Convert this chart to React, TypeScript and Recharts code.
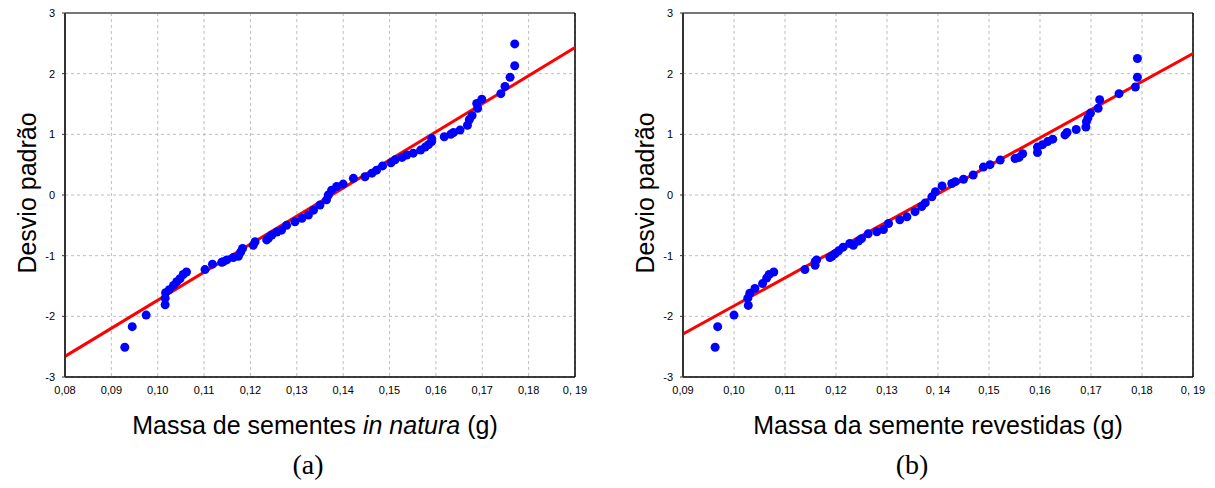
import { ComposedChart, Scatter, Line, XAxis, YAxis, CartesianGrid, ReferenceLine } from 'recharts';

// (a) in natura
const massA = [
  0.0929, 0.0945, 0.0975, 0.1016, 0.1016, 0.1017, 0.1025, 0.1034, 0.1041, 0.1048, 0.1055, 0.1062,
  0.1102, 0.1118, 0.1138, 0.1141, 0.1149, 0.1163, 0.1174, 0.1179, 0.1183, 0.1206, 0.121, 0.1235,
  0.1239, 0.1246, 0.1257, 0.1267, 0.1278, 0.1296, 0.1311, 0.1325, 0.1336, 0.135, 0.1364, 0.1368,
  0.1375, 0.1386, 0.14, 0.1422, 0.1447, 0.1462, 0.1472, 0.1485, 0.1503, 0.1512, 0.1527, 0.1537,
  0.1551, 0.1567, 0.1577, 0.1584, 0.1591, 0.1591, 0.1618, 0.1632, 0.1638, 0.1652, 0.1668, 0.1672,
  0.1678, 0.169, 0.1688, 0.1699, 0.174, 0.1749, 0.176, 0.177, 0.177,
];
const zA = [
  -2.51, -2.17, -1.98, -1.81, -1.7, -1.61, -1.56, -1.49, -1.43, -1.38, -1.31, -1.27,
  -1.23, -1.14, -1.11, -1.1, -1.07, -1.03, -1.01, -0.94, -0.88, -0.83, -0.77, -0.74,
  -0.71, -0.66, -0.61, -0.58, -0.5, -0.44, -0.385, -0.33, -0.25, -0.165, -0.08, 0,
  0.08, 0.14, 0.18, 0.275, 0.3, 0.36, 0.41, 0.48, 0.53, 0.58, 0.62, 0.66,
  0.69, 0.74, 0.79, 0.83, 0.88, 0.93, 0.96, 1.0, 1.03, 1.07, 1.15, 1.24,
  1.31, 1.43, 1.51, 1.58, 1.67, 1.79, 1.94, 2.13, 2.49,
];
const fitMassA = [0.08, 0.19];
const fitZA = [-2.66, 2.43];
const ticksA = [0.08, 0.09, 0.1, 0.11, 0.12, 0.13, 0.14, 0.15, 0.16, 0.17, 0.18, 0.19];
const tickLabelsA = ['0,08', '0,09', '0,10', '0,11', '0,12', '0,13', '0,14', '0,15', '0,16', '0,17', '0,18', '0, 19'];

// (b) revestidas
const massB = [
  0.0963, 0.0968, 0.1, 0.1028, 0.1027, 0.1031, 0.1041, 0.1056, 0.1064, 0.1069, 0.1078,
  0.1139, 0.1159, 0.1159, 0.1162, 0.1188, 0.1192, 0.1198, 0.1205, 0.1214, 0.1227, 0.1234,
  0.1244, 0.125, 0.1263, 0.128, 0.1293, 0.1303, 0.1325, 0.1339, 0.1355, 0.1368, 0.1375,
  0.1388, 0.1395, 0.1408, 0.1427, 0.1434, 0.145, 0.1469, 0.1489, 0.1502, 0.1522, 0.1551,
  0.1559, 0.1566, 0.1595, 0.1595, 0.1605, 0.1615, 0.1625, 0.1649, 0.1653, 0.1671, 0.169,
  0.1691, 0.1694, 0.1699, 0.1714, 0.1717, 0.1755, 0.1787, 0.1791, 0.1791,
];
const zB = [
  -2.51, -2.17, -1.98, -1.82, -1.7, -1.62, -1.54, -1.46, -1.37, -1.31, -1.27,
  -1.23, -1.16, -1.1, -1.07, -1.03, -1.01, -0.97, -0.92, -0.86, -0.8, -0.83,
  -0.76, -0.72, -0.64, -0.605, -0.57, -0.47, -0.41, -0.36, -0.275, -0.19, -0.13,
  -0.03, 0.055, 0.15, 0.19, 0.22, 0.26, 0.33, 0.46, 0.5, 0.575, 0.6,
  0.62, 0.68, 0.7, 0.79, 0.83, 0.88, 0.92, 0.99, 1.03, 1.08, 1.12,
  1.21, 1.27, 1.35, 1.43, 1.57, 1.67, 1.78, 1.94, 2.25,
];
const fitMassB = [0.09, 0.19];
const fitZB = [-2.29, 2.33];
const ticksB = [0.09, 0.1, 0.11, 0.12, 0.13, 0.14, 0.15, 0.16, 0.17, 0.18, 0.19];
const tickLabelsB = ['0,09', '0,10', '0,11', '0,12', '0,13', '0, 14', '0,15', '0,16', '0,17', '0,18', '0, 19'];

const yTicks = [-3, -2, -1, 0, 1, 2, 3];

const SANS = '"Liberation Sans", Arial, sans-serif';
const SERIF = '"Liberation Serif", "Times New Roman", serif';

function toPoints(xs: number[], ys: number[]) {
  return xs.map((x, i) => ({ x, y: ys[i] }));
}

function NormalPlot({ mass, z, fitMass, fitZ, ticks, labels }: {
  mass: number[]; z: number[]; fitMass: number[]; fitZ: number[]; ticks: number[]; labels: string[];
}) {
  const points = toPoints(mass, z);
  const fit = toPoints(fitMass, fitZ);
  const lo = ticks[0];
  const hi = ticks[ticks.length - 1];
  return (
    <ComposedChart width={600} height={400} margin={{ top: 13, right: 25, bottom: 0, left: 0 }}>
      <CartesianGrid stroke="#bdbdbd" strokeDasharray="3 3" />
      <XAxis
        dataKey="x"
        type="number"
        domain={[lo, hi]}
        ticks={ticks}
        height={23}
        tickFormatter={(v: number) => labels[ticks.findIndex((t) => Math.abs(t - v) < 1e-9)] ?? ''}
        tick={{ fontSize: 11, fill: '#000', fontFamily: SANS }}
        tickLine={false}
        tickSize={4}
        tickMargin={5}
        axisLine={{ stroke: '#000', strokeWidth: 1.5 }}
        allowDataOverflow
      />
      <YAxis
        dataKey="y"
        type="number"
        domain={[-3, 3]}
        ticks={yTicks}
        width={65}
        tick={{ fontSize: 11, fill: '#000', fontFamily: SANS }}
        tickLine={{ stroke: '#333' }}
        tickSize={3}
        tickMargin={7}
        axisLine={{ stroke: '#333', strokeWidth: 2 }}
        allowDataOverflow
      />
      <ReferenceLine y={3} stroke="#777" strokeWidth={2} />
      <ReferenceLine x={hi} stroke="#000" strokeWidth={1.5} />
      <Scatter data={points} fill="#0000ff" isAnimationActive={false}
        shape={(p: any) => <circle cx={p.cx} cy={p.cy} r={4.5} fill="#0000ff" />} />
      <Line data={fit} dataKey="y" stroke="#ff0000" strokeWidth={3} dot={false} isAnimationActive={false} />
    </ComposedChart>
  );
}

const abs = (left: number, top: number): React.CSSProperties => ({ position: 'absolute', left, top });

function YTitle({ x, y }: { x: number; y: number }) {
  return (
    <div style={{ ...abs(x, y), width: 0, height: 0 }}>
      <div style={{
        position: 'absolute', left: 0, top: 0, whiteSpace: 'nowrap', fontFamily: SANS, fontSize: 25,
        lineHeight: 1, transform: 'translate(-50%, -50%) rotate(-90deg)',
      }}>Desvio padrão</div>
    </div>
  );
}

function Centered({ x, y, children, font, size }: { x: number; y: number; children: any; font: string; size: number }) {
  return (
    <div style={{ ...abs(x, y), width: 0, height: 0 }}>
      <div style={{
        position: 'absolute', left: 0, top: 0, whiteSpace: 'nowrap', fontFamily: font, fontSize: size,
        lineHeight: 1, transform: 'translate(-50%, -50%)', color: '#000',
      }}>{children}</div>
    </div>
  );
}

export default function App() {
  return (
    <div style={{ position: 'absolute', left: 0, top: 0, width: 1215, height: 488, background: '#fff' }}>
      <div style={abs(0, 0)}>
        <NormalPlot mass={massA} z={zA} fitMass={fitMassA} fitZ={fitZA} ticks={ticksA} labels={tickLabelsA} />
      </div>
      <div style={abs(618, 0)}>
        <NormalPlot mass={massB} z={zB} fitMass={fitMassB} fitZ={fitZB} ticks={ticksB} labels={tickLabelsB} />
      </div>
      <YTitle x={27} y={193} />
      <YTitle x={645} y={193} />
      <Centered x={315} y={425} font={SANS} size={25}>
        Massa de sementes <i>in natura</i> (g)
      </Centered>
      <Centered x={938} y={425} font={SANS} size={25}>
        Massa da semente revestidas (g)
      </Centered>
      <Centered x={308} y={465} font={SERIF} size={28}>(a)</Centered>
      <Centered x={912} y={465} font={SERIF} size={28}>(b)</Centered>
    </div>
  );
}
